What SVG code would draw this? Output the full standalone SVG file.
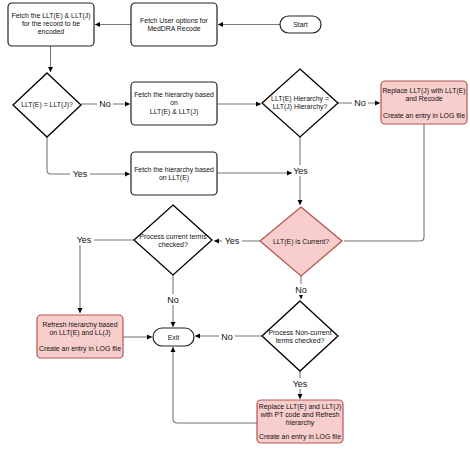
<svg xmlns="http://www.w3.org/2000/svg" width="470" height="450" viewBox="0 0 470 450">
<defs>
<marker id="ah" markerWidth="6" markerHeight="6" refX="5" refY="3" orient="auto" markerUnits="userSpaceOnUse">
<path d="M0,0.5 L5,3 L0,5.5 Z" fill="#000"/>
</marker>
<style>
.box{fill:#fff;stroke:#222;stroke-width:1.2}
.red{fill:#f8cecc;stroke:#b85450;stroke-width:1.2}
.dia{fill:#fff;stroke:#000;stroke-width:1.3}
.dred{fill:#f8cecc;stroke:#b85450;stroke-width:1.3}
.t{font-family:"Liberation Sans",Arial,sans-serif;font-size:6.9px;fill:#111;text-anchor:middle}
.lb{font-family:"Liberation Sans",Arial,sans-serif;font-size:9px;fill:#111;text-anchor:middle}
.c{fill:none;stroke:#777;stroke-width:1.1}
.ca{fill:none;stroke:#777;stroke-width:1.1;marker-end:url(#ah)}
.bg{fill:#fff}
</style>
</defs>
<rect width="470" height="450" fill="#fff"/>
<g id="connectors">
<path class="ca" d="M280,24.5 H218"/>
<path class="ca" d="M131,24.5 H95"/>
<path class="ca" d="M50.5,46 V72"/>
<path class="ca" d="M81,104 H130"/>
<path class="ca" d="M217,104 H261"/>
<path class="ca" d="M338,103 H380"/>
<path class="c" d="M424,124 V237 Q424,241 420,241 H344"/>
<path class="ca" d="M47,137 V170 Q47,174 51,174 H130"/>
<path class="ca" d="M300,137 V205"/>
<path class="ca" d="M260,241 H214"/>
<path class="ca" d="M134,240 H80 V313"/>
<path class="ca" d="M123,337 H152"/>
<path class="ca" d="M173,275 V327"/>
<path class="ca" d="M301,276 V299"/>
<path class="ca" d="M262,336 H195"/>
<path class="ca" d="M300,371 V399"/>
<path class="ca" d="M257,423 H177 Q173,423 173,419 V347"/>
<g>
<rect class="bg" x="97" y="98" width="16" height="11"/><text class="lb" x="105" y="107">No</text>
<rect class="bg" x="352" y="97" width="16" height="11"/><text class="lb" x="360" y="106">No</text>
<rect class="bg" x="70" y="168" width="20" height="11"/><text class="lb" x="80" y="177">Yes</text>
<rect class="bg" x="292" y="165" width="17" height="11"/><text class="lb" x="300.5" y="174">Yes</text>
<rect class="bg" x="222" y="235" width="20" height="11"/><text class="lb" x="232" y="244">Yes</text>
<rect class="bg" x="74" y="234" width="20" height="11"/><text class="lb" x="84" y="243">Yes</text>
<rect class="bg" x="165" y="294" width="16" height="11"/><text class="lb" x="173" y="303">No</text>
<rect class="bg" x="293" y="284" width="16" height="11"/><text class="lb" x="301" y="293">No</text>
<rect class="bg" x="219" y="331" width="16" height="11"/><text class="lb" x="227" y="340">No</text>
<rect class="bg" x="290" y="378" width="20" height="11"/><text class="lb" x="300" y="387">Yes</text>
</g>
<path class="ca" d="M217,173 H292"/>
</g>
<g id="start">
<rect class="box" x="280" y="16" width="41" height="17" rx="8.5"/>
<text class="t" x="300.5" y="27">Start</text>
</g>
<g id="fetch-user-options">
<rect class="box" x="131" y="3" width="86" height="43" rx="4"/>
<text class="t" x="174" y="23">Fetch User options for</text>
<text class="t" x="174" y="31">MedDRA Recode</text>
</g>
<g id="fetch-llt">
<rect class="box" x="8" y="3" width="86" height="43" rx="4"/>
<text class="t" x="51" y="18">Fetch the LLT(E) &amp; LLT(J)</text>
<text class="t" x="51" y="26">for the record to be</text>
<text class="t" x="51" y="34">encoded</text>
</g>
<g id="d-llt-equal">
<polygon class="dia" points="47,73 81,105 47,137 13,105"/>
<text class="t" x="47" y="107">LLT(E) = LLT(J)?</text>
</g>
<g id="fetch-hier-both">
<rect class="box" x="131" y="82" width="86" height="43" rx="4"/>
<text class="t" x="174" y="97">Fetch the hierarchy based</text>
<text class="t" x="174" y="105">on</text>
<text class="t" x="174" y="114">LLT(E) &amp; LLT(J)</text>
</g>
<g id="d-hier-equal">
<polygon class="dia" points="300,69 338,103 300,137 262,103"/>
<text class="t" x="300" y="101">LLT(E) Hierarchy =</text>
<text class="t" x="300" y="109">LLT(J) Hierarchy?</text>
</g>
<g id="replace-recode">
<rect class="red" x="381" y="81" width="86" height="43" rx="4"/>
<text class="t" x="424" y="93">Replace LLT(J) with LLT(E)</text>
<text class="t" x="424" y="101">and Recode</text>
<text class="t" x="424" y="118">Create an entry in LOG file</text>
</g>
<g id="fetch-hier-e">
<rect class="box" x="131" y="152" width="86" height="43" rx="4"/>
<text class="t" x="174" y="172">Fetch the hierarchy based</text>
<text class="t" x="174" y="180">on LLT(E)</text>
</g>
<g id="d-current">
<polygon class="dred" points="301,207 342,241 301,276 260,241"/>
<text class="t" x="301" y="244">LLT(E) is Current?</text>
</g>
<g id="d-process-current">
<polygon class="dia" points="173,205 212,240 173,275 134,240"/>
<text class="t" x="173" y="239">Process current terms</text>
<text class="t" x="173" y="247">checked?</text>
</g>
<g id="refresh-hier">
<rect class="red" x="37" y="315" width="86" height="43" rx="4"/>
<text class="t" x="80" y="327">Refresh hierarchy based</text>
<text class="t" x="80" y="335">on LLT(E) and LL(J)</text>
<text class="t" x="80" y="351">Create an entry in LOG file</text>
</g>
<g id="exit">
<rect class="box" x="153" y="328" width="41" height="18" rx="9"/>
<text class="t" x="173.5" y="339.5">Exit</text>
</g>
<g id="d-process-noncurrent">
<polygon class="dia" points="300,301 338,336 300,371 262,336"/>
<text class="t" x="300" y="335">Process Non-current</text>
<text class="t" x="300" y="343">terms checked?</text>
</g>
<g id="replace-pt">
<rect class="red" x="257" y="400" width="86" height="43" rx="4"/>
<text class="t" x="300" y="409">Replace LLT(E) and LLT(J)</text>
<text class="t" x="300" y="417">with PT code and Refresh</text>
<text class="t" x="300" y="425">hierarchy</text>
<text class="t" x="300" y="439">Create an entry in LOG file</text>
</g>
</svg>
